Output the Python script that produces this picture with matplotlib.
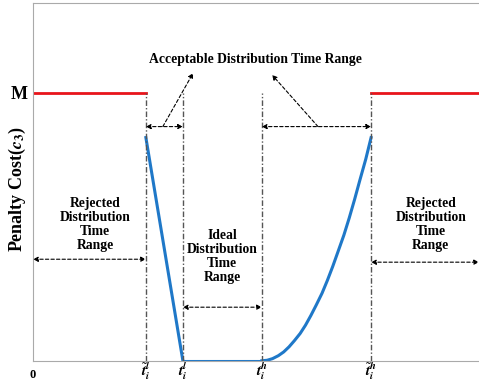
import matplotlib.pyplot as plt

# key time points on the x axis (t~l, tl, th, t~h) and the right end of the axis
x_tl_tilde = 2.53
x_tl = 3.36
x_th = 5.13
x_th_tilde = 7.58
x_end = 10.0
M = 1.0

# penalty curve
left_x = [x_tl_tilde, x_tl]
left_y = [0.833, 0.0]
flat_x = [x_tl, x_th]
flat_y = [0.0, 0.0]
right_x = [5.13, 5.25, 5.37, 5.50, 5.62, 5.74, 5.86, 5.99, 6.11, 6.23, 6.35,
           6.48, 6.60, 6.72, 6.84, 6.97, 7.09, 7.21, 7.33, 7.46, 7.58]
right_y = [0.0, 0.002, 0.008, 0.019, 0.033, 0.052, 0.075, 0.102, 0.133, 0.169, 0.208,
           0.252, 0.30, 0.352, 0.408, 0.469, 0.533, 0.602, 0.675, 0.752, 0.833]

tick_pos = [x_tl_tilde, x_tl, x_th, x_th_tilde]
tick_labels = [r'$\tilde{\mathbfit{t}}_{\mathbfit{i}}^{\mathbfit{l}}$',
               r'$\mathbfit{t}_{\mathbfit{i}}^{\mathbfit{l}}$',
               r'$\mathbfit{t}_{\mathbfit{i}}^{\mathbfit{h}}$',
               r'$\tilde{\mathbfit{t}}_{\mathbfit{i}}^{\mathbfit{h}}$']

plt.rcParams['font.family'] = 'Liberation Serif'
plt.rcParams['mathtext.fontset'] = 'stix'

fig = plt.figure(figsize=(4.79, 3.83), dpi=100)
ax = fig.add_axes([0.069, 0.058, 0.931, 0.934])

# red "M" segments
ax.plot([0, x_tl_tilde], [M, M], color='#e8141b', lw=2)
ax.plot([x_th_tilde, x_end], [M, M], color='#e8141b', lw=2)

# blue penalty curve
ax.plot(left_x, left_y, color='#1f78c8', lw=2.2)
ax.plot(flat_x, flat_y, color='#1f78c8', lw=2.2)
ax.plot(right_x, right_y, color='#1f78c8', lw=2.2)

# vertical dash-dot guides
for xv in tick_pos:
    ax.plot([xv, xv], [0, M], color='#555555', lw=1, linestyle=(0, (4, 1.5, 1, 1.5)))

aprops = dict(arrowstyle='<|-|>', linestyle=(0, (3, 2)), color='black', lw=0.8,
              mutation_scale=7, shrinkA=0, shrinkB=0)
sprops = dict(arrowstyle='-|>', linestyle=(0, (3, 2)), color='black', lw=0.8,
              mutation_scale=7, shrinkA=0, shrinkB=0)
tfont = dict(fontsize=9.8, fontweight='bold', ha='center', va='center', linespacing=1.1)

# acceptable range
ax.annotate('', xy=(x_tl, 0.874), xytext=(x_tl_tilde, 0.874), arrowprops=aprops)
ax.annotate('', xy=(x_th_tilde, 0.874), xytext=(x_th, 0.874), arrowprops=aprops)
ax.annotate('', xy=(3.59, 1.074), xytext=(2.91, 0.874), arrowprops=sprops)
ax.annotate('', xy=(5.36, 1.067), xytext=(6.39, 0.874), arrowprops=sprops)
ax.text(4.98, 1.126, 'Acceptable Distribution Time Range', **tfont)

# rejected ranges
ax.annotate('', xy=(x_tl_tilde, 0.379), xytext=(0, 0.379), arrowprops=aprops)
ax.text(1.39, 0.509, 'Rejected\nDistribution\nTime\nRange', **tfont)
ax.annotate('', xy=(x_end, 0.368), xytext=(x_th_tilde, 0.368), arrowprops=aprops)
ax.text(8.92, 0.509, 'Rejected\nDistribution\nTime\nRange', **tfont)

# ideal range
ax.annotate('', xy=(x_th, 0.2), xytext=(x_tl, 0.2), arrowprops=aprops)
ax.text(4.24, 0.39, 'Ideal\nDistribution\nTime\nRange', **tfont)

ax.set_xlim(0, x_end)
ax.set_ylim(0, 1.335)
ax.set_xticks(tick_pos)
ax.set_xticklabels(tick_labels, fontsize=11)
ax.set_yticks([M])
ax.set_yticklabels(['M'], fontsize=13, fontweight='bold')
ax.tick_params(axis='x', length=0, pad=0)
ax.tick_params(axis='y', length=0, pad=4)
ax.text(0, -0.03, '0', fontsize=9, fontweight='bold', ha='center', va='top',
        transform=ax.transData)
ax.set_ylabel(r'Penalty Cost($\mathbfit{c}_{\mathbf{3}}$)', fontsize=13, fontweight='bold')
ax.yaxis.set_label_coords(-0.012, 0.479)

for s in ['left', 'top', 'bottom']:
    ax.spines[s].set_color('#aaaaaa')
ax.spines['right'].set_visible(False)

fig.savefig('out.png', dpi=100)
